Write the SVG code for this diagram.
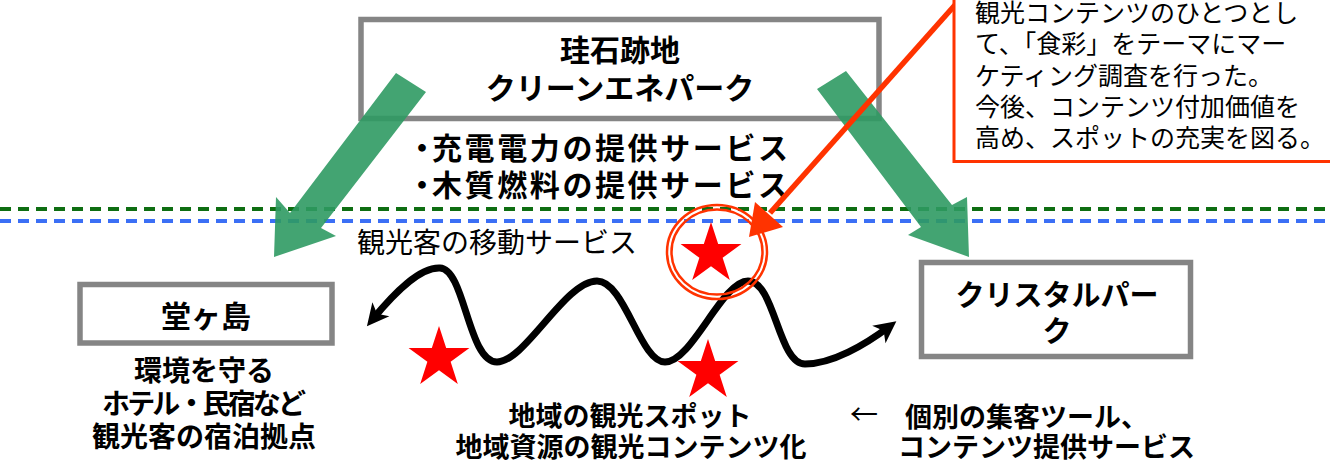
<svg xmlns="http://www.w3.org/2000/svg" xmlns:xlink="http://www.w3.org/1999/xlink" width="1330" height="469" viewBox="0 0 1330 469">
<style>
.box{fill:#fff;stroke:#858585;stroke-width:5.5}
.t{font-family:"Noto Sans CJK JP","Noto Sans CJK SC",sans-serif;fill:#000}
.b{font-weight:bold}
.c{text-anchor:middle}
.garrow{fill:#2f9a63;fill-opacity:0.9}
.star{fill:#ff0000}
.ring{fill:none;stroke:#ff3300;stroke-width:2.5}
</style>
<defs>
<polygon id="star" points="0,-32 7.18,-9.89 30.43,-9.89 11.63,3.78 18.81,25.89 0,12.22 -18.81,25.89 -11.63,3.78 -30.43,-9.89 -7.18,-9.89"/>
<marker id="ah" markerUnits="userSpaceOnUse" viewBox="-16 -12 26 24" refX="0" refY="0" markerWidth="26" markerHeight="24" orient="auto-start-reverse">
<path d="M8,0 L-14,-11 L-8,0 L-14,11 Z" fill="#000"/>
</marker>
</defs>
<rect width="1330" height="469" fill="#fff"/>
<g id="boundaries">
<line x1="0" y1="209" x2="1330" y2="209" stroke="#0e6e12" stroke-width="4" stroke-dasharray="11 7"/>
<line x1="0" y1="221" x2="1330" y2="221" stroke="#3b6ff5" stroke-width="4" stroke-dasharray="11 7"/>
</g>
<g id="node-keiseki">
<rect class="box" x="361" y="19.5" width="518" height="99"/>
<text class="t b c" x="620" y="61" font-size="30">珪石跡地</text>
<text class="t b c" x="620" y="99" font-size="30">クリーンエネパーク</text>
</g>
<g id="label-services">
<text class="t b" x="407" y="159" font-size="30">・<tspan x="432" textLength="356">充電電力の提供サービス</tspan></text>
<text class="t b" x="407" y="196" font-size="30">・<tspan x="432" textLength="356">木質燃料の提供サービス</tspan></text>
</g>
<g id="node-dogashima">
<rect class="box" x="80" y="284.5" width="252" height="58.5"/>
<text class="t b c" x="206" y="327" font-size="30">堂ヶ島</text>
<text class="t b c" x="204" y="381" font-size="28">環境を守る</text>
<text class="t b" x="102" y="414" font-size="28" textLength="204" lengthAdjust="spacing">ホテル・民宿など</text>
<text class="t b c" x="204" y="447" font-size="28">観光客の宿泊拠点</text>
</g>
<g id="node-crystal">
<rect class="box" x="921.5" y="262.5" width="269" height="94"/>
<text class="t b c" x="1057" y="306" font-size="29">クリスタルパー</text>
<text class="t b c" x="1057" y="342" font-size="29">ク</text>
</g>
<g id="label-move">
<text class="t" x="357" y="253" font-size="28">観光客の移動サービス</text>
</g>
<g id="label-spots">
<text class="t b c" x="630" y="426" font-size="27">地域の観光スポット</text>
<text class="t b c" x="631" y="457" font-size="27">地域資源の観光コンテンツ化</text>
</g>
<g id="label-tools">
<text class="t" x="850" y="425" font-size="28">←</text>
<text class="t b" x="905" y="427" font-size="27">個別の集客ツール、</text>
<text class="t b" x="898" y="457" font-size="27">コンテンツ提供サービス</text>
</g>
<g id="connectors">
<polygon class="garrow" points="396,73 426,92 321,228 336,236 274,257 276,197 290,213"/>
<polygon class="garrow" points="846,71 952,205 967,197 969,257 908,235 921,227 817,89"/>
<line x1="955" y1="5" x2="770" y2="213" stroke="#ff3300" stroke-width="5.5"/>
<polygon points="749,237 783,227 755,202" fill="#ff3300"/>
<path d="M372,320 C395,292 420,267 440,268 C465,269 468,362 497,362 C525,362 565,281 597,281 C625,281 640,362 665,362 C692,362 722,281 748,281 C775,281 778,364 805,364 C832,364 865,345 890,326" fill="none" stroke="#000" stroke-width="7" marker-start="url(#ah)" marker-end="url(#ah)"/>
</g>
<g id="callout">
<rect x="954" y="-10" width="400" height="171.5" fill="#fff" stroke="#ff3300" stroke-width="3"/>
<text class="t" x="975" y="22" font-size="25">観光コンテンツのひとつとし</text>
<text class="t" x="975" y="53" font-size="25">て、「食彩」をテーマにマー</text>
<text class="t" x="975" y="85" font-size="25">ケティング調査を行った。</text>
<text class="t" x="975" y="116" font-size="25">今後、コンテンツ付加価値を</text>
<text class="t" x="975" y="147" font-size="25">高め、スポットの充実を図る。</text>
</g>
<g id="spots">
<ellipse class="ring" cx="717" cy="252" rx="50" ry="47"/>
<ellipse class="ring" cx="717" cy="252" rx="45.5" ry="42.5"/>
<use xlink:href="#star" class="star" x="711" y="254"/>
<use xlink:href="#star" class="star" x="439" y="358"/>
<use xlink:href="#star" class="star" x="708" y="371"/>
</g>
</svg>
